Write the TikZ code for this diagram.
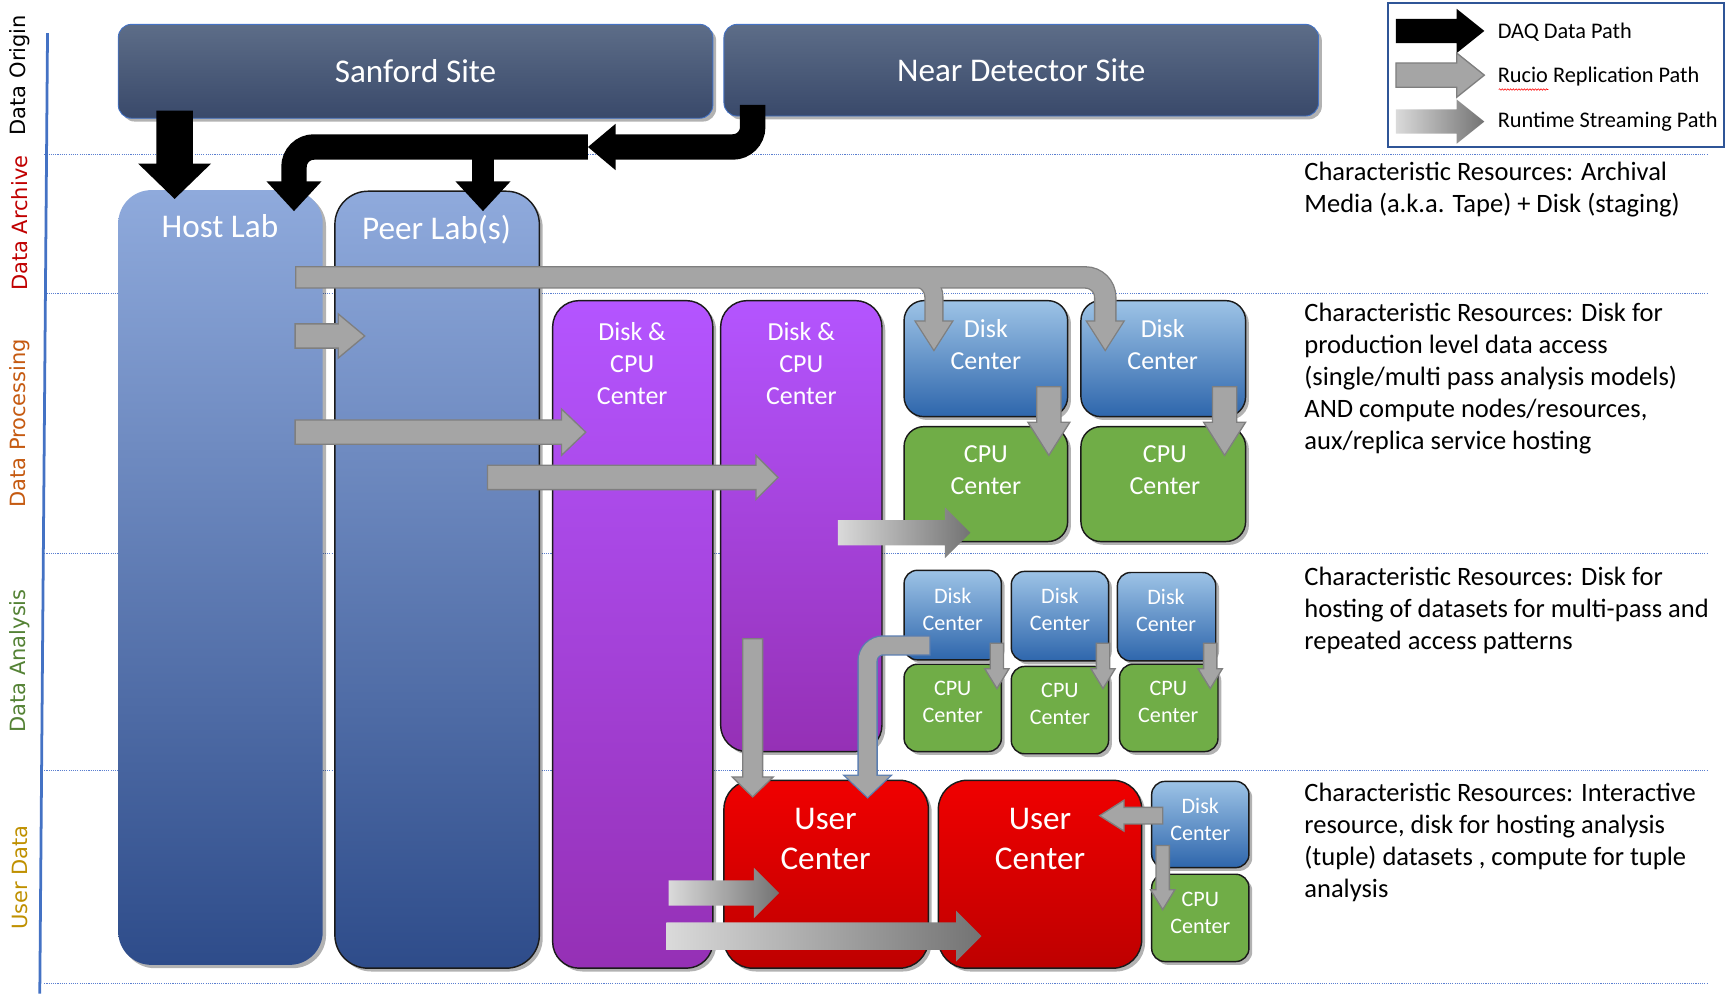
\documentclass[tikz,border=0pt]{standalone}
\usepackage{fontspec}
\setmainfont{Carlito}
\newfontfamily\sidefont{DejaVu Sans}
\usetikzlibrary{calc,shadows,decorations.pathmorphing}

\definecolor{axisblue}{HTML}{4472C4}
\definecolor{gridblue}{HTML}{5B7FD0}
\definecolor{siteT}{HTML}{5D6D88}
\definecolor{siteB}{HTML}{39496A}
\definecolor{siteline}{HTML}{4472C4}
\definecolor{hostT}{HTML}{8FAADC}
\definecolor{hostB}{HTML}{2E4C8A}
\definecolor{purT}{HTML}{B455FF}
\definecolor{purB}{HTML}{9530B5}
\definecolor{dskT}{HTML}{9DC3E6}
\definecolor{dskB}{HTML}{2E66AC}
\definecolor{cpuG}{HTML}{70AD47}
\definecolor{redT}{HTML}{F00000}
\definecolor{redB}{HTML}{BE0000}
\definecolor{arrG}{HTML}{A5A5A5}
\definecolor{arrO}{HTML}{7F7F7F}
\definecolor{bentO}{HTML}{5A7DB0}
\definecolor{strL}{HTML}{DADADA}
\definecolor{strD}{HTML}{737373}
\definecolor{labRed}{HTML}{C00000}
\definecolor{labOrange}{HTML}{C55A11}
\definecolor{labGreen}{HTML}{548235}
\definecolor{labGold}{HTML}{BF9000}
\definecolor{legline}{HTML}{2F5597}
\definecolor{boxline}{HTML}{1A1A1A}

% straight block arrow: style, start, tip, shaft half-width, head half-width, head length
\newcommand\fatarrow[6][]{%
  \coordinate (fabase) at ($(#3)!#6!(#2)$);
  \path[#1] ($(#2)!#4!90:(#3)$) -- ($(fabase)!#4!90:(#3)$) -- ($(fabase)!#5!90:(#3)$) -- (#3)
    -- ($(fabase)!#5!-90:(#3)$) -- ($(fabase)!#4!-90:(#3)$) -- ($(#2)!#4!-90:(#3)$) -- cycle;}

\begin{document}
\begin{tikzpicture}[x=1pt,y=-1pt,
  shadowed/.style={drop shadow={shadow xshift=3pt,shadow yshift=-3pt,opacity=0.3,fill=black}},
  sitebox/.style={rectangle,rounded corners=12pt,draw=siteline,line width=0.8pt,top color=siteT,bottom color=siteB,shadowed,text=white,font=\fontsize{30}{36}\selectfont},
  labbox/.style={rectangle,rounded corners=30pt,top color=hostT,bottom color=hostB,shadowed,inner sep=0pt},
  purbox/.style={rectangle,rounded corners=24pt,draw=boxline,line width=1.3pt,top color=purT,bottom color=purB,shadowed,inner sep=0pt},
  dskbox/.style={rectangle,rounded corners=#1,draw=boxline,line width=1.3pt,top color=dskT,bottom color=dskB,shadowed,inner sep=0pt},
  cpubox/.style={rectangle,rounded corners=#1,draw=boxline,line width=1.3pt,fill=cpuG,shadowed,inner sep=0pt},
  redbox/.style={rectangle,rounded corners=26pt,draw=boxline,line width=1.3pt,top color=redT,bottom color=redB,shadowed,inner sep=0pt},
  wt/.style={text=white,inner sep=0pt,align=center},
  fbig/.style={font=\fontsize{30}{36}\selectfont},
  fmid/.style={font=\fontsize{23.5}{29}\selectfont},
  fsmall/.style={font=\fontsize{20}{24.5}\selectfont},
  sidelab/.style={rotate=90,font=\sidefont\fontsize{19}{19}\selectfont,inner sep=0pt},
  desc/.style={anchor=north west,align=left,inner sep=0pt,font=\fontsize{24}{29}\selectfont,text=black},
  legtxt/.style={anchor=west,inner sep=0pt,font=\fontsize{20.2}{22}\selectfont,text=black},
  grid/.style={gridblue,line width=0.7pt,dash pattern=on 1pt off 1pt},
  grayarrow/.style={fill=arrG,draw=arrO,line width=1.2pt},
  streamarrow/.style={left color=strL,right color=strD},
]
\useasboundingbox (0,0) rectangle (1568,902);

% layer grid lines
\draw[grid] (40,140) -- (1545,140);
\draw[grid] (40,265) -- (1545,265);
\draw[grid] (40,501) -- (1545,501);
\draw[grid] (40,697) -- (1545,697);
\draw[grid] (40,890) -- (1545,890);
\draw[axisblue,line width=2.5pt] (43,30) -- (36,899);

% side labels
\node[sidelab,text=black] (lorig) at (18,68) {Data Origin};
\node[sidelab,text=labRed] (larch) at (18,202) {Data Archive};
\node[sidelab,text=labOrange] (lproc) at (18,383) {Data Processing};
\node[sidelab,text=labGreen] (lana) at (18,598) {Data Analysis};
\node[sidelab,text=labGold] (luser) at (18,794) {User Data};

% sites
\node[sitebox,minimum width=538pt,minimum height=85pt] (sanford) at (376,64.5) {Sanford Site};
\node[sitebox,minimum width=538pt,minimum height=83pt] (near) at (924,63.5) {Near Detector Site};

% labs
\node[labbox,minimum width=185pt,minimum height=701pt] (host) at (199.5,522.5) {};
\node[labbox,draw=boxline,line width=1.3pt,minimum width=185pt,minimum height=703pt] (peer) at (395.5,524.5) {};
\node[wt,fbig] (hosttxt) at (199,205) {Host Lab};
\node[wt,fbig] (peertxt) at (395,208) {Peer Lab(s)};

% disk & cpu centers
\node[purbox,minimum width=145pt,minimum height=604pt] (dc1) at (572.5,574) {};
\node[purbox,minimum width=146pt,minimum height=408pt] (dc2) at (725,476) {};
\node[wt,fmid] (dc1txt) at (572,329) {Disk \&\\CPU\\Center};
\node[wt,fmid] (dc2txt) at (725,329) {Disk \&\\CPU\\Center};

% processing disk / cpu
\node[dskbox=18pt,minimum width=148pt,minimum height=105pt] (pd1) at (892,324.5) {};
\node[dskbox=18pt,minimum width=149pt,minimum height=105pt] (pd2) at (1052.5,324.5) {};
\node[cpubox=18pt,minimum width=148pt,minimum height=104pt] (pc1) at (892,438) {};
\node[cpubox=18pt,minimum width=149pt,minimum height=104pt] (pc2) at (1052.5,438) {};
\node[wt,fmid] (pd1txt) at (892,312) {Disk\\Center};
\node[wt,fmid] (pd2txt) at (1052,312) {Disk\\Center};
\node[wt,fmid] (pc1txt) at (892,425) {CPU\\Center};
\node[wt,fmid] (pc2txt) at (1054,425) {CPU\\Center};

% analysis disk / cpu
\node[dskbox=12pt,minimum width=88pt,minimum height=81pt] (ad1) at (862,556.5) {};
\node[dskbox=12pt,minimum width=88pt,minimum height=81pt] (ad2) at (959,557.5) {};
\node[dskbox=12pt,minimum width=89pt,minimum height=80pt] (ad3) at (1055.5,558) {};
\node[cpubox=12pt,minimum width=88pt,minimum height=79pt] (ac1) at (862,640.5) {};
\node[cpubox=12pt,minimum width=88pt,minimum height=79pt] (ac2) at (959,642.5) {};
\node[cpubox=12pt,minimum width=89pt,minimum height=79pt] (ac3) at (1057.5,640.5) {};
\node[wt,fsmall] (ad1txt) at (862,551) {Disk\\Center};
\node[wt,fsmall] (ad2txt) at (959,551) {Disk\\Center};
\node[wt,fsmall] (ad3txt) at (1055,552) {Disk\\Center};
\node[wt,fsmall] (ac1txt) at (862,635) {CPU\\Center};
\node[wt,fsmall] (ac2txt) at (959,637) {CPU\\Center};
\node[wt,fsmall] (ac3txt) at (1057,635) {CPU\\Center};

% user level
\node[redbox,minimum width=185pt,minimum height=170pt] (uc1) at (747.5,791) {};
\node[redbox,minimum width=184pt,minimum height=170pt] (uc2) at (941,791) {};
\node[dskbox=12pt,minimum width=88pt,minimum height=78pt] (ud) at (1086,746) {};
\node[cpubox=12pt,minimum width=88pt,minimum height=79pt] (ucp) at (1086,830.5) {};
\node[wt,fbig] (uc1txt) at (747,759) {User\\Center};
\node[wt,fbig] (uc2txt) at (941,759) {User\\Center};
\node[wt,fsmall] (udtxt) at (1086,741) {Disk\\Center};
\node[wt,fsmall] (ucptxt) at (1086,826) {CPU\\Center};

% ---------- DAQ (black) arrows ----------
\coordinate (d1s) at (158,100); \coordinate (d1t) at (158,180);
\fatarrow[fill=black]{d1s}{d1t}{16.5pt}{33pt}{32pt}
\draw[black,line width=23pt,rounded corners=18pt] (681,95) |- (556,133);
\coordinate (d2b) at (557,133); \coordinate (d2t) at (532,133);
\fatarrow[fill=black]{d2b}{d2t}{11.5pt}{21pt}{25pt}
\draw[black,line width=23pt,rounded corners=18pt] (532,133) -| (266,168);
\draw[black,line width=20pt] (437,133) -- (437,168);
\coordinate (d3b) at (266,164); \coordinate (d3t) at (266,191);
\fatarrow[fill=black]{d3b}{d3t}{11.5pt}{25pt}{27pt}
\coordinate (d4b) at (437,164); \coordinate (d4t) at (437,191);
\fatarrow[fill=black]{d4b}{d4t}{10pt}{25pt}{27pt}

% ---------- Rucio (gray) arrows ----------
\coordinate (r1b) at (845,292); \coordinate (r1t) at (845,316);
\coordinate (r2b) at (1000,292); \coordinate (r2t) at (1000,316);
\draw[arrO,line width=20.4pt,rounded corners=18pt] (267,251) -| (1000,293);
\draw[arrO,line width=17.4pt,rounded corners=18pt] (800,251) -| (845,293);
\fatarrow[fill=arrO,draw=arrO,line width=2.4pt]{r1b}{r1t}{8pt}{16pt}{25pt}
\fatarrow[fill=arrO,draw=arrO,line width=2.4pt]{r2b}{r2t}{8pt}{16pt}{25pt}
\draw[arrG,line width=18pt,rounded corners=18pt] (268.2,251) -| (1000,293);
\draw[arrG,line width=15pt,rounded corners=18pt] (800,251) -| (845,293);
\fatarrow[fill=arrG]{r1b}{r1t}{7.5pt}{16pt}{25pt}
\fatarrow[fill=arrG]{r2b}{r2t}{7.5pt}{16pt}{25pt}

\coordinate (a2s) at (267,304); \coordinate (a2t) at (330,304);
\fatarrow[grayarrow]{a2s}{a2t}{11pt}{20pt}{24pt}
\coordinate (a3s) at (267,391); \coordinate (a3t) at (530,391);
\fatarrow[grayarrow]{a3s}{a3t}{11pt}{21pt}{22pt}
\coordinate (a4s) at (441,432); \coordinate (a4t) at (704,432);
\fatarrow[grayarrow]{a4s}{a4t}{11pt}{20pt}{20pt}

\coordinate (p1s) at (949,350); \coordinate (p1t) at (949,412);
\fatarrow[grayarrow]{p1s}{p1t}{11pt}{19pt}{30pt}
\coordinate (p2s) at (1108,350); \coordinate (p2t) at (1108,412);
\fatarrow[grayarrow]{p2s}{p2t}{11pt}{19pt}{30pt}

\coordinate (q1s) at (902,582); \coordinate (q1t) at (902,623);
\fatarrow[grayarrow]{q1s}{q1t}{6pt}{11pt}{18pt}
\coordinate (q2s) at (998,582); \coordinate (q2t) at (998,623);
\fatarrow[grayarrow]{q2s}{q2t}{6pt}{11pt}{18pt}
\coordinate (q3s) at (1095,582); \coordinate (q3t) at (1095,623);
\fatarrow[grayarrow]{q3s}{q3t}{6pt}{11pt}{18pt}

\coordinate (v1s) at (681,578); \coordinate (v1t) at (681,721);
\fatarrow[grayarrow]{v1s}{v1t}{9pt}{18.5pt}{18pt}

% bent arrow from analysis disk center to user center
\coordinate (bb) at (785,702); \coordinate (bt) at (785,721);
\draw[bentO,line width=18.4pt,rounded corners=14pt] (842,584) -| (785,703);
\fatarrow[fill=bentO,draw=bentO,line width=2.4pt]{bb}{bt}{8pt}{20pt}{19pt}
\draw[arrG,line width=16pt,rounded corners=14pt] (840.8,584) -| (785,703);
\fatarrow[fill=arrG]{bb}{bt}{7pt}{20pt}{19pt}

\coordinate (u1s) at (1052,738); \coordinate (u1t) at (995,738);
\fatarrow[grayarrow]{u1s}{u1t}{7.5pt}{14pt}{22pt}
\coordinate (u2s) at (1052,765); \coordinate (u2t) at (1052,823);
\fatarrow[grayarrow]{u2s}{u2t}{6pt}{11pt}{18pt}

% ---------- runtime streaming arrows ----------
\coordinate (g1s) at (758,482); \coordinate (g1t) at (878,482);
\fatarrow[streamarrow]{g1s}{g1t}{11.5pt}{23pt}{23pt}
\coordinate (g2s) at (605,808); \coordinate (g2t) at (705,808);
\fatarrow[streamarrow]{g2s}{g2t}{11.5pt}{23pt}{23pt}
\coordinate (g3s) at (603,847); \coordinate (g3t) at (888,847);
\fatarrow[streamarrow]{g3s}{g3t}{12.5pt}{23pt}{23pt}

% ---------- legend ----------
\node[draw=legline,line width=1.5pt,minimum width=304pt,minimum height=130pt,inner sep=0pt] (legend) at (1408,68) {};
\coordinate (l1s) at (1263,28); \coordinate (l1t) at (1343,28);
\fatarrow[fill=black]{l1s}{l1t}{11pt}{20pt}{25pt}
\coordinate (l2s) at (1263,68); \coordinate (l2t) at (1343,68);
\fatarrow[grayarrow]{l2s}{l2t}{11pt}{20pt}{25pt}
\coordinate (l3s) at (1263,110); \coordinate (l3t) at (1343,110);
\fatarrow[streamarrow]{l3s}{l3t}{11pt}{20pt}{25pt}
\node[legtxt] (lt1) at (1355,29) {DAQ Data Path};
\node[legtxt] (lt2) at (1355,69) {Rucio Replication Path};
\node[legtxt] (lt3) at (1355,110) {Runtime Streaming Path};
\draw[red,line width=0.5pt,decorate,decoration={snake,amplitude=0.7pt,segment length=2.5pt}] (1356,81) -- (1401,81);

% ---------- descriptions ----------
\node[desc] (r1) at (1180,146) {Characteristic Resources: Archival\\Media (a.k.a. Tape) + Disk (staging)};
\node[desc] (r2) at (1180,274) {Characteristic Resources: Disk for\\production level data access\\(single/multi pass analysis models)\\AND compute nodes/resources,\\aux/replica service hosting};
\node[desc] (r3) at (1180,513) {Characteristic Resources: Disk for\\hosting of datasets for multi-pass and\\repeated access patterns};
\node[desc] (r4) at (1180,708) {Characteristic Resources: Interactive\\resource, disk for hosting analysis\\(tuple) datasets , compute for tuple\\analysis};
\end{tikzpicture}
\end{document}
